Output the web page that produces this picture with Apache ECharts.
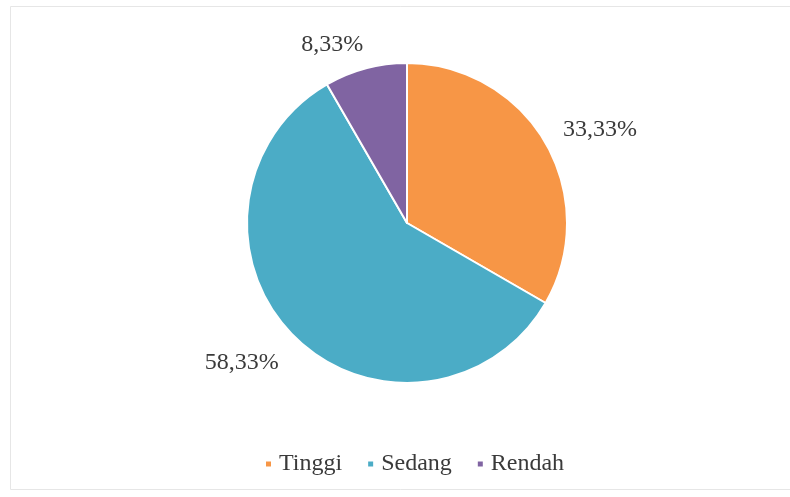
<!DOCTYPE html>
<html>
<head>
<meta charset="utf-8">
<script src="https://cdn.jsdelivr.net/npm/echarts@6/dist/echarts.min.js"></script>
<style>
html,body{margin:0;padding:0;background:#fff;}
#chart{width:790px;height:497px;}
</style>
</head>
<body>
<div id="chart"></div>
<script>
const categories = ['Tinggi', 'Sedang', 'Rendah'];
const values = [4, 7, 1];
const percentLabels = ['33,33%', '58,33%', '8,33%'];
const colors = ['#F79646', '#4BACC6', '#8064A2'];

const labelTweaks = [
  { length: 26, length2: 0, dist: -5 },
  { length: 37, length2: 0, dist: -11 },
  { length: 25, length2: 0, dist: -4 }
];

const chart = echarts.init(document.getElementById('chart'), null, { renderer: 'canvas' });
const fontFamily = '"Liberation Serif", "Times New Roman", serif';

const data = categories.map((c, i) => ({
  name: c,
  value: values[i],
  itemStyle: { color: colors[i] },
  label: {
    distanceToLabelLine: labelTweaks[i].dist
  },
  labelLine: {
    show: false,
    length: labelTweaks[i].length,
    length2: labelTweaks[i].length2
  }
}));

chart.setOption({
  animation: false,
  backgroundColor: '#ffffff',
  graphic: [{
    type: 'rect',
    shape: { x: 10.5, y: 6.5, width: 790, height: 483 },
    style: { fill: 'none', stroke: '#e6e6e6', lineWidth: 1 },
    silent: true,
    z: -1
  }],
  legend: {
    data: categories,
    left: 259,
    top: 447,
    icon: 'rect',
    itemWidth: 7,
    itemHeight: 7,
    itemGap: 24,
    textStyle: { fontFamily: fontFamily, fontSize: 24, color: '#3a3a3a', padding: [0, 0, 0, 2] }
  },
  series: [{
    type: 'pie',
    center: [407, 223],
    radius: [0, 160],
    startAngle: 90,
    clockwise: true,
    avoidLabelOverlap: false,
    itemStyle: { borderColor: '#ffffff', borderWidth: 2 },
    label: {
      show: true,
      position: 'outside',
      fontFamily: fontFamily,
      fontSize: 24,
      color: '#3a3a3a',
      formatter: p => percentLabels[p.dataIndex]
    },
    labelLine: { show: false },
    emphasis: { disabled: true },
    data: data
  }]
});
</script>
</body>
</html>
